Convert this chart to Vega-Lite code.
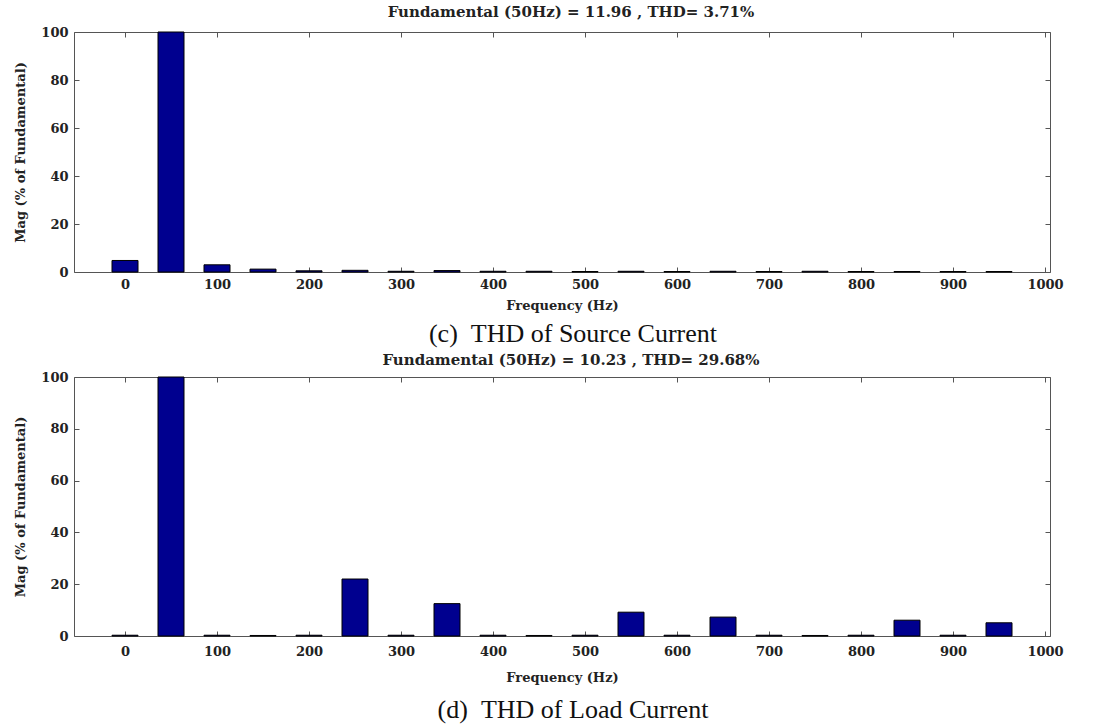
{
  "$schema": "https://vega.github.io/schema/vega-lite/v6.json",
  "background": "white",
  "padding": {"left": 14, "top": 5, "right": 5, "bottom": 5},
  "spacing": 6,
  "config": {
    "view": {"stroke": null},
    "font": "DejaVu Serif",
    "axis": {
      "labelFont": "DejaVu Serif", "labelFontWeight": "bold", "labelFontSize": 13, "labelColor": "#222",
      "titleFont": "DejaVu Serif", "titleFontWeight": "bold", "titleFontSize": 13, "titleColor": "#222",
      "domainColor": "#555", "tickColor": "#555", "grid": false, "tickSize": -5, "format": "d"
    },
    "title": {"font": "DejaVu Serif", "fontWeight": "bold", "fontSize": 15, "color": "#222"}
  },
  "datasets": {
    "source": [
      {"f": 0, "mag": 4.8}, {"f": 50, "mag": 100}, {"f": 100, "mag": 3.0}, {"f": 150, "mag": 1.2},
      {"f": 200, "mag": 0.5}, {"f": 250, "mag": 0.7}, {"f": 300, "mag": 0.3}, {"f": 350, "mag": 0.6},
      {"f": 400, "mag": 0.3}, {"f": 450, "mag": 0.3}, {"f": 500, "mag": 0.2}, {"f": 550, "mag": 0.3},
      {"f": 600, "mag": 0.2}, {"f": 650, "mag": 0.3}, {"f": 700, "mag": 0.2}, {"f": 750, "mag": 0.3},
      {"f": 800, "mag": 0.2}, {"f": 850, "mag": 0.2}, {"f": 900, "mag": 0.2}, {"f": 950, "mag": 0.2}
    ],
    "load": [
      {"f": 0, "mag": 0.3}, {"f": 50, "mag": 100}, {"f": 100, "mag": 0.3}, {"f": 150, "mag": 0.2},
      {"f": 200, "mag": 0.3}, {"f": 250, "mag": 22.0}, {"f": 300, "mag": 0.3}, {"f": 350, "mag": 12.5},
      {"f": 400, "mag": 0.3}, {"f": 450, "mag": 0.2}, {"f": 500, "mag": 0.3}, {"f": 550, "mag": 9.2},
      {"f": 600, "mag": 0.3}, {"f": 650, "mag": 7.3}, {"f": 700, "mag": 0.3}, {"f": 750, "mag": 0.2},
      {"f": 800, "mag": 0.3}, {"f": 850, "mag": 6.1}, {"f": 900, "mag": 0.3}, {"f": 950, "mag": 5.1}
    ]
  },
  "vconcat": [
    {
      "title": {"text": "(c)\u00a0\u00a0THD of Source Current", "orient": "bottom", "font": "Liberation Serif", "fontSize": 26, "fontWeight": "normal", "color": "#111", "anchor": "middle", "offset": 9, "dx": 34},
      "vconcat": [
        {
          "title": {"text": "Fundamental (50Hz) = 11.96 , THD= 3.71%", "offset": 6, "dx": 9},
          "width": 976,
          "height": 240,
          "data": {"name": "source"},
          "layer": [
            {
              "mark": {"type": "bar", "size": 26, "fill": "#00008F", "stroke": "#000000", "strokeWidth": 1},
              "encoding": {
                "x": {"field": "f", "type": "quantitative", "scale": {"domain": [-50, 1000], "nice": false, "zero": false},
                      "axis": {"orient": "bottom", "values": [0,100,200,300,400,500,600,700,800,900,1000], "title": "Frequency (Hz)", "labelPadding": 11, "titlePadding": 8}},
                "y": {"field": "mag", "type": "quantitative", "scale": {"domain": [0, 100], "nice": false},
                      "axis": {"orient": "left", "values": [0,20,40,60,80,100], "title": "Mag (% of Fundamental)", "labelPadding": 11, "titlePadding": 13}}
              }
            },
            {
              "mark": {"type": "bar", "size": 26, "opacity": 0},
              "encoding": {
                "x": {"field": "f", "type": "quantitative", "axis": {"orient": "top", "values": [0,100,200,300,400,500,600,700,800,900,1000], "labels": false, "title": null}},
                "y": {"field": "mag", "type": "quantitative", "axis": {"orient": "right", "values": [0,20,40,60,80,100], "labels": false, "title": null}}
              }
            }
          ],
          "resolve": {"axis": {"x": "independent", "y": "independent"}}
        }
      ]
    },
    {
      "title": {"text": "(d)\u00a0\u00a0THD of Load Current", "orient": "bottom", "font": "Liberation Serif", "fontSize": 26, "fontWeight": "normal", "color": "#111", "anchor": "middle", "offset": 13, "dx": 34},
      "vconcat": [
        {
          "title": {"text": "Fundamental (50Hz) = 10.23 , THD= 29.68%", "offset": 3, "dx": 9},
          "width": 976,
          "height": 259,
          "data": {"name": "load"},
          "layer": [
            {
              "mark": {"type": "bar", "size": 26, "fill": "#00008F", "stroke": "#000000", "strokeWidth": 1},
              "encoding": {
                "x": {"field": "f", "type": "quantitative", "scale": {"domain": [-50, 1000], "nice": false, "zero": false},
                      "axis": {"orient": "bottom", "values": [0,100,200,300,400,500,600,700,800,900,1000], "title": "Frequency (Hz)", "labelPadding": 14, "titlePadding": 13}},
                "y": {"field": "mag", "type": "quantitative", "scale": {"domain": [0, 100], "nice": false},
                      "axis": {"orient": "left", "values": [0,20,40,60,80,100], "title": "Mag (% of Fundamental)", "labelPadding": 11, "titlePadding": 13}}
              }
            },
            {
              "mark": {"type": "bar", "size": 26, "opacity": 0},
              "encoding": {
                "x": {"field": "f", "type": "quantitative", "axis": {"orient": "top", "values": [0,100,200,300,400,500,600,700,800,900,1000], "labels": false, "title": null}},
                "y": {"field": "mag", "type": "quantitative", "axis": {"orient": "right", "values": [0,20,40,60,80,100], "labels": false, "title": null}}
              }
            }
          ],
          "resolve": {"axis": {"x": "independent", "y": "independent"}}
        }
      ]
    }
  ]
}
